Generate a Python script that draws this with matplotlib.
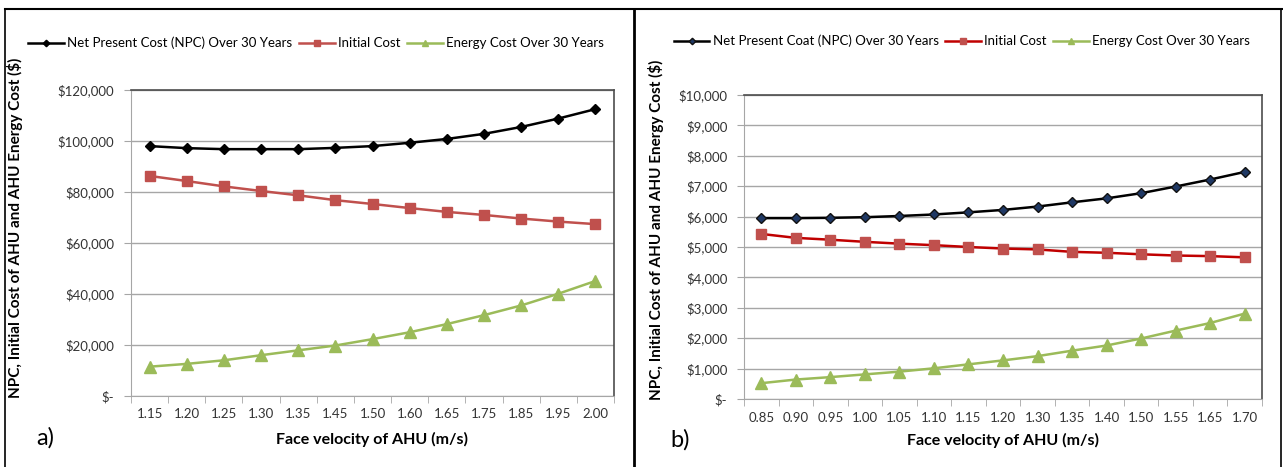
import matplotlib
matplotlib.use("Agg")
import matplotlib.pyplot as plt
from matplotlib.lines import Line2D
from matplotlib.ticker import FuncFormatter, FixedLocator

plt.rcParams['font.family'] = ['Lato', 'DejaVu Sans']

# Panel a) - face velocity categories and costs ($)
vel_a = ["1.15", "1.20", "1.25", "1.30", "1.35", "1.45", "1.50",
         "1.60", "1.65", "1.75", "1.85", "1.95", "2.00"]
npc_a = [98000, 97200, 96800, 96800, 96800, 97300, 98000,
         99300, 100800, 102800, 105500, 108800, 112500]
init_a = [86300, 84300, 82200, 80400, 78700, 76800, 75300,
          73700, 72200, 71000, 69600, 68400, 67400]
energy_a = [11500, 12600, 14000, 16000, 17900, 19800, 22300,
            25000, 28200, 31700, 35500, 40100, 45100]

# Panel b)
vel_b = ["0.85", "0.90", "0.95", "1.00", "1.05", "1.10", "1.15", "1.20",
         "1.30", "1.35", "1.40", "1.50", "1.55", "1.65", "1.70"]
npc_b = [5950, 5950, 5960, 5980, 6020, 6070, 6140, 6220,
         6330, 6470, 6600, 6770, 6990, 7220, 7470]
init_b = [5430, 5300, 5240, 5170, 5110, 5060, 5000, 4950,
          4920, 4840, 4810, 4760, 4720, 4700, 4660]
energy_b = [520, 640, 720, 810, 900, 1010, 1140, 1270,
            1410, 1590, 1760, 1990, 2250, 2500, 2810]

W, H = 1283, 467
fig = plt.figure(figsize=(W / 100, H / 100), dpi=100)


def fx(px):
    return px / W


def fy(py):
    return 1 - py / H


def money(v, pos):
    if abs(v) < 1e-6:
        return "$-"
    return "${:,.0f}".format(v)


def style_axes(ax, labels, ymax, ystep):
    n = len(labels)
    ax.set_xlim(-0.5, n - 0.5)
    ax.set_ylim(0, ymax)
    ax.set_xticks(range(n))
    ax.set_xticklabels(labels)
    ax.xaxis.set_minor_locator(FixedLocator([i - 0.5 for i in range(n + 1)]))
    ax.tick_params(axis='x', which='major', length=0, pad=9, labelsize=9.5, colors='#333333')
    ax.tick_params(axis='x', which='minor', length=5, color='#a6a6a6')
    ax.set_yticks(range(0, ymax + 1, ystep))
    ax.yaxis.set_major_formatter(FuncFormatter(money))
    ax.tick_params(axis='y', length=5, pad=7, color='#a6a6a6', labelsize=9.5, labelcolor='#333333')
    ax.grid(axis='y', color='#a6a6a6', lw=1)
    ax.set_axisbelow(True)
    for s in ['left', 'bottom']:
        ax.spines[s].set_color('#a6a6a6')
    for s in ['top', 'right']:
        ax.spines[s].set_color('#4d4d4d')
        ax.spines[s].set_linewidth(1.2)


green = '#9bbb59'
red = '#c0504d'
leg_kw = dict(loc='center', ncol=3, frameon=False, fontsize=9.5, handlelength=2.7,
              columnspacing=0.5, handletextpad=0.25, markerscale=0.6)

# ---- panel a
ax1 = fig.add_axes([fx(131), fy(396), fx(614 - 131), (396 - 90) / H])
xa = range(len(vel_a))
l1, = ax1.plot(xa, npc_a, color='black', lw=1.8, marker='D', ms=5.5, mfc='black', mec='black',
               label='Net Present Cost (NPC) Over 30 Years')
l2, = ax1.plot(xa, init_a, color=red, lw=1.8, marker='s', ms=7, mfc=red, mec=red,
               label='Initial Cost')
l3, = ax1.plot(xa, energy_a, color=green, lw=1.8, marker='^', ms=8, mfc=green, mec=green,
               label='Energy Cost Over 30 Years')
style_axes(ax1, vel_a, 120000, 20000)
fig.legend(handles=[l1, l2, l3], bbox_to_anchor=(fx(316), fy(43)), **leg_kw)

# ---- panel b
ax2 = fig.add_axes([fx(744), fy(399), fx(1262 - 744), (399 - 95) / H])
xb = range(len(vel_b))
m1, = ax2.plot(xb, npc_b, color='black', lw=1.8, marker='D', ms=5.5, mfc='#1f3864', mec='#111111',
               label='Net Present Coat (NPC) Over 30 Years')
m2, = ax2.plot(xb, init_b, color='#c00000', lw=1.8, marker='s', ms=7, mfc=red, mec=red,
               label='Initial Cost')
m3, = ax2.plot(xb, energy_b, color=green, lw=1.8, marker='^', ms=8, mfc=green, mec=green,
               label='Energy Cost Over 30 Years')
style_axes(ax2, vel_b, 10000, 1000)
fig.legend(handles=[m1, m2, m3], bbox_to_anchor=(fx(962), fy(41)), **leg_kw)

# axis titles and panel letters
ylab = "NPC, Initial Cost of AHU and AHU Energy Cost ($)"
fig.text(fx(15), fy(228), ylab, rotation=90, ha='center', va='center', fontsize=11, fontweight='bold')
fig.text(fx(656), fy(230), ylab, rotation=90, ha='center', va='center', fontsize=11, fontweight='bold')
fig.text(fx(372), fy(439), "Face velocity of AHU (m/s)", ha='center', va='center', fontsize=11.5, fontweight='bold')
fig.text(fx(1003), fy(440), "Face velocity of AHU (m/s)", ha='center', va='center', fontsize=11.5, fontweight='bold')
fig.text(fx(45), fy(438), "a)", ha='center', va='center', fontsize=17)
fig.text(fx(680), fy(440), "b)", ha='center', va='center', fontsize=17)

# outer frame and divider
fig.add_artist(Line2D([fx(5), 1], [fy(9), fy(9)], color='black', lw=1.5))
fig.add_artist(Line2D([fx(5), fx(5)], [0, fy(9)], color='black', lw=1.2))
fig.add_artist(Line2D([fx(634), fx(634)], [0, fy(9)], color='black', lw=2))
fig.add_artist(Line2D([fx(1281), fx(1281)], [0, fy(9)], color='black', lw=1.2))

fig.savefig("out.png", dpi=100)
